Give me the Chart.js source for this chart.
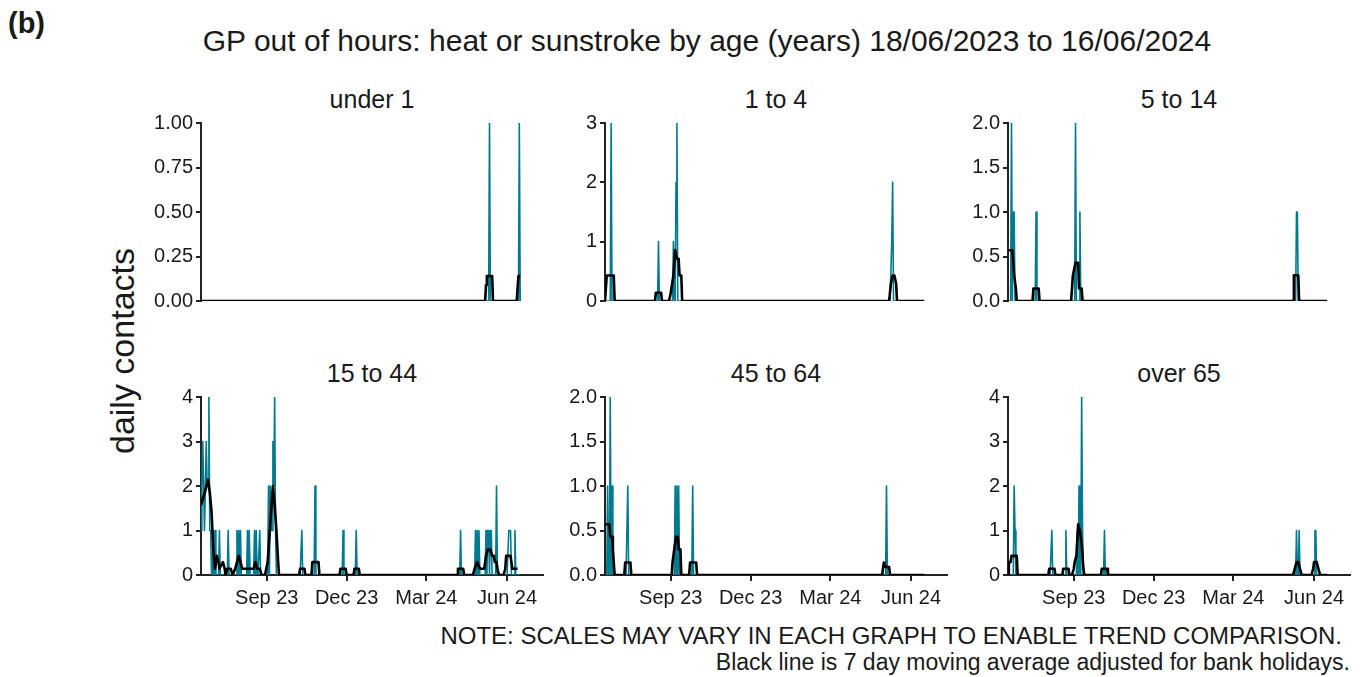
<!DOCTYPE html>
<html>
<head>
<meta charset="utf-8">
<title>GP out of hours: heat or sunstroke by age</title>
<script src="https://cdn.jsdelivr.net/npm/chart.js@4.4.1/dist/chart.umd.min.js"></script>
<style>
  body { margin: 0; background: #fff; font-family: 'Liberation Sans', Arial, sans-serif; }
  #wrap { position: relative; width: 1362px; height: 677px; overflow: hidden; background: #fff; }
  .txt { position: absolute; white-space: nowrap; color: #1a1a1a; line-height: 1; }
  .centered { transform: translateX(-50%); }
  .panel { position: absolute; }
</style>
</head>
<body>
<div id="wrap">
  <div class="txt" style="left:8px;top:9px;font-size:29px;font-weight:bold;">(b)</div>
  <div class="txt centered" style="left:707px;top:26px;font-size:30px;">GP out of hours: heat or sunstroke by age (years) 18/06/2023 to 16/06/2024</div>
  <div class="txt" style="left:122px;top:351px;font-size:34px;transform:translate(-50%,-50%) rotate(-90deg);">daily contacts</div>
  <div class="txt" style="right:20px;top:624px;font-size:24px;">NOTE: SCALES MAY VARY IN EACH GRAPH TO ENABLE TREND COMPARISON.</div>
  <div class="txt" style="right:12px;top:651px;font-size:23px;">Black line is 7 day moving average adjusted for bank holidays.</div>
</div>
<script>
// days counted from 18/06/2023 (day 0) to 16/06/2024 (day 364)
const dayCount = 365;
const xMax = 390;
const xTickDays = [75, 166, 257, 349];
const xTickLabels = ['Sep 23', 'Dec 23', 'Mar 24', 'Jun 24'];

const panelNames = ['under 1', '1 to 4', '5 to 14', '15 to 44', '45 to 64', 'over 65'];
const yMaxes = [1, 3, 2, 4, 2, 4];
const yTickLabels = [
    ['0.00', '0.25', '0.50', '0.75', '1.00'],
    ['0', '1', '2', '3'],
    ['0.0', '0.5', '1.0', '1.5', '2.0'],
    ['0', '1', '2', '3', '4'],
    ['0.0', '0.5', '1.0', '1.5', '2.0'],
    ['0', '1', '2', '3', '4']
];

// daily contacts, [day, contacts] for days with any contacts (all other days are 0)
const under1Daily = [[329, 1], [363, 1]];
const age1to4Daily = [[7, 3], [61, 1], [78, 1], [81, 2], [82, 3], [327, 1], [328, 2]];
const age5to14Daily = [[4, 2], [6, 1], [7, 1], [32, 1], [77, 2], [82, 1], [329, 1], [330, 1]];
const age15to44Daily = [
    [0, 1], [1, 2], [2, 3], [3, 2], [4, 1], [5, 2], [6, 3], [7, 2], [8, 2], [9, 4], [10, 1], [11, 1],
    [14, 1], [16, 1], [21, 1], [31, 1], [41, 1], [43, 1], [45, 1], [53, 1], [55, 1], [61, 1], [63, 1], [67, 1],
    [77, 2], [79, 2], [80, 1], [81, 1], [82, 3], [83, 2], [84, 4], [85, 1],
    [115, 1], [130, 2], [162, 1], [177, 1],
    [296, 1], [313, 1], [315, 1], [317, 1], [325, 1], [327, 1], [328, 1], [330, 1], [331, 1], [337, 2],
    [351, 1], [352, 1], [353, 1], [358, 1]
];
const age45to64Daily = [[3, 1], [6, 2], [8, 1], [26, 1], [80, 1], [82, 1], [84, 1], [100, 1], [321, 1]];
const over65Daily = [[7, 2], [8, 1], [50, 1], [66, 1], [79, 1], [81, 2], [84, 4], [85, 1], [110, 1],
    [329, 1], [332, 1], [350, 1], [351, 1]];

// 7 day moving average, read as [day, value] turning points
const under1Avg = [[0, 0], [324, 0], [325, 0.09], [326, 0.14], [332, 0.14], [333, 0], [360, 0], [361, 0.07], [362, 0.14], [364, 0.14]];
const age1to4Avg = [[0, 0], [1, 0], [2, 0.43], [10, 0.43], [11, 0], [57, 0], [58, 0.14], [64, 0.14], [65, 0],
    [73, 0], [75, 0.14], [78, 0.43], [80, 0.86], [82, 0.71], [84, 0.71], [85, 0.43], [87, 0.43], [88, 0],
    [324, 0], [326, 0.29], [328, 0.43], [330, 0.43], [332, 0.29], [333, 0], [364, 0]];
const age5to14Avg = [[0, 0.57], [5, 0.57], [7, 0.29], [9, 0.14], [10, 0], [28, 0], [29, 0.14], [35, 0.14], [36, 0],
    [72, 0], [74, 0.29], [77, 0.43], [80, 0.43], [81, 0.14], [84, 0.14], [85, 0],
    [325, 0], [326, 0.29], [331, 0.29], [332, 0], [364, 0]];
const age15to44Avg = [[0, 1.57], [2, 1.71], [5, 1.9], [8, 2.14], [10, 1.86], [12, 1.43], [14, 0.57], [16, 0.14],
    [18, 0.43], [20, 0.29], [21, 0.14], [25, 0.29], [27, 0.14], [28, 0], [30, 0.14], [34, 0.14], [36, 0],
    [39, 0.14], [41, 0.29], [43, 0.43], [45, 0.29], [47, 0.14], [56, 0.14], [60, 0.14], [62, 0.29], [64, 0.14],
    [67, 0.14], [69, 0], [73, 0], [76, 0.29], [78, 0.86], [80, 1.43], [82, 2.0], [84, 1.57], [86, 1.0], [88, 0.29], [89, 0],
    [112, 0], [113, 0.14], [118, 0.14], [119, 0], [126, 0], [127, 0.29], [134, 0.29], [135, 0],
    [158, 0], [159, 0.14], [165, 0.14], [166, 0], [174, 0], [175, 0.14], [180, 0.14], [181, 0],
    [292, 0], [293, 0.14], [299, 0.14], [300, 0], [310, 0], [312, 0.14], [315, 0.29], [318, 0.14], [323, 0.14],
    [325, 0.43], [327, 0.57], [330, 0.57], [332, 0.43], [334, 0.43], [335, 0.29], [337, 0.29], [338, 0.14], [340, 0],
    [345, 0], [347, 0.14], [348, 0.43], [353, 0.43], [355, 0.14], [361, 0.14]];
const age45to64Avg = [[0, 0.57], [5, 0.57], [6, 0.43], [8, 0.43], [9, 0.29], [10, 0.14], [11, 0], [22, 0], [23, 0.14],
    [29, 0.14], [30, 0], [76, 0], [77, 0.14], [79, 0.29], [81, 0.43], [83, 0.43], [84, 0.29], [86, 0.29], [87, 0],
    [96, 0], [97, 0.14], [104, 0.14], [105, 0], [316, 0], [318, 0.14], [320, 0.09], [324, 0.09], [325, 0], [364, 0]];
const over65Avg = [[0, 0], [1, 0.29], [3, 0.29], [4, 0.43], [10, 0.43], [11, 0], [46, 0], [47, 0.14], [53, 0.14], [54, 0],
    [62, 0], [63, 0.14], [69, 0.14], [70, 0], [73, 0], [75, 0.14], [76, 0.29], [78, 0.43], [80, 1.14], [82, 1.0],
    [84, 0.71], [86, 0.14], [87, 0], [106, 0], [107, 0.14], [113, 0.14], [114, 0],
    [325, 0], [327, 0.14], [329, 0.29], [331, 0.29], [333, 0.14], [335, 0],
    [346, 0], [348, 0.14], [349, 0.29], [352, 0.29], [354, 0.14], [356, 0], [364, 0]];

const dailyData = [under1Daily, age1to4Daily, age5to14Daily, age15to44Daily, age45to64Daily, over65Daily];
const avgData = [under1Avg, age1to4Avg, age5to14Avg, age15to44Avg, age45to64Avg, over65Avg];

document.addEventListener('DOMContentLoaded', function() {
    const wrap = document.getElementById('wrap');
    const fontFamily = "'Liberation Sans', Arial, sans-serif";
    const teal = '#007a8e';
    const axisColor = '#222';

    // plot area positions (left edge, top edge) of each panel
    const colLefts = [201, 605, 1008];
    const rowTops = [123, 397];
    const plotW = 342;
    const plotH = 178;
    const yAxisW = 62;
    const padTop = 16;
    const padRight = 6;
    const padBottomTop = 16;

    function dailyPoints(list) {
        const counts = new Array(dayCount).fill(0);
        list.forEach(([d, v]) => { counts[d] = v; });
        return counts.map((v, i) => ({ x: i, y: v }));
    }

    panelNames.forEach((name, i) => {
        const col = i % 3;
        const row = Math.floor(i / 3);
        const isBottom = row === 1;
        const xAxisH = isBottom ? 40 : 0;
        const left = colLefts[col] - yAxisW;
        const top = rowTops[row] - padTop;
        const width = yAxisW + plotW + padRight;
        const height = padTop + plotH + (isBottom ? xAxisH : padBottomTop);

        const title = document.createElement('div');
        title.className = 'txt centered';
        title.style.left = (colLefts[col] + plotW / 2) + 'px';
        title.style.top = (row === 0 ? 87 : 361) + 'px';
        title.style.fontSize = '25px';
        title.textContent = name;
        wrap.appendChild(title);

        const box = document.createElement('div');
        box.className = 'panel';
        box.style.left = left + 'px';
        box.style.top = top + 'px';
        const canvas = document.createElement('canvas');
        canvas.width = width;
        canvas.height = height;
        box.appendChild(canvas);
        wrap.appendChild(box);

        const labels = yTickLabels[i];

        new Chart(canvas, {
            type: 'line',
            data: {
                datasets: [
                    {
                        label: '7 day moving average',
                        data: avgData[i].map(([d, v]) => ({ x: d, y: v })),
                        borderColor: '#000',
                        borderWidth: 2.6,
                        borderJoinStyle: 'round',
                        pointRadius: 0,
                        tension: 0,
                        order: 1
                    },
                    {
                        label: 'daily contacts',
                        data: dailyPoints(dailyData[i]),
                        borderColor: teal,
                        borderWidth: 1.6,
                        borderJoinStyle: 'round',
                        pointRadius: 0,
                        tension: 0,
                        order: 2
                    }
                ]
            },
            options: {
                responsive: false,
                animation: false,
                devicePixelRatio: 1,
                layout: { padding: { top: padTop, right: padRight, bottom: isBottom ? 0 : padBottomTop, left: 0 } },
                plugins: {
                    legend: { display: false },
                    tooltip: { enabled: false }
                },
                scales: {
                    x: {
                        type: 'linear',
                        min: 0,
                        max: xMax,
                        display: isBottom,
                        afterBuildTicks: function(scale) {
                            scale.ticks = xTickDays.map(v => ({ value: v }));
                        },
                        afterFit: function(scale) { scale.height = xAxisH; },
                        ticks: {
                            autoSkip: false,
                            maxRotation: 0,
                            padding: 5,
                            color: '#1a1a1a',
                            font: { size: 20, family: fontFamily },
                            callback: (v, idx) => xTickLabels[idx]
                        },
                        grid: { drawOnChartArea: false, drawTicks: true, tickLength: 6, color: axisColor, lineWidth: 2 },
                        border: { display: true, color: axisColor, width: 2 }
                    },
                    y: {
                        min: 0,
                        max: yMaxes[i],
                        afterBuildTicks: function(scale) {
                            scale.ticks = labels.map(l => ({ value: parseFloat(l) }));
                        },
                        afterFit: function(scale) { scale.width = yAxisW; },
                        ticks: {
                            padding: 3,
                            color: '#1a1a1a',
                            font: { size: 20, family: fontFamily },
                            callback: (v, idx) => labels[idx]
                        },
                        grid: { drawOnChartArea: false, drawTicks: true, tickLength: 5, color: axisColor, lineWidth: 2 },
                        border: { display: true, color: axisColor, width: 2 }
                    }
                }
            }
        });
    });
});
</script>
</body>
</html>
